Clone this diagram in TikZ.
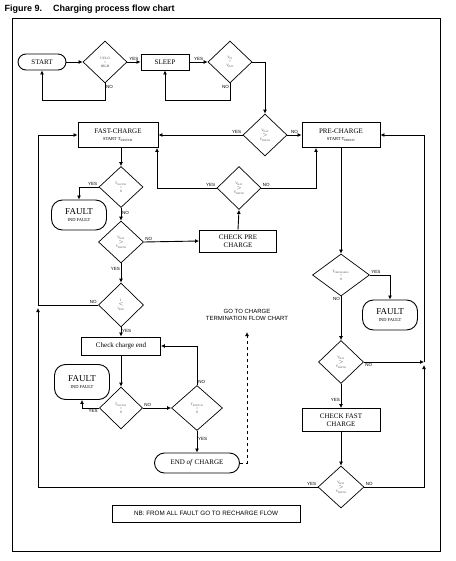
\documentclass[tikz,border=0pt]{standalone}
\usepackage{fontspec}
\setmainfont{Liberation Serif}
\setsansfont{Liberation Sans}
\usepackage{tikz}
\usetikzlibrary{arrows.meta, shapes.geometric, positioning}

\begin{document}
\begin{tikzpicture}[x=1pt, y=-1pt,
  proc/.style={draw, line width=0.9pt, minimum width=78pt, minimum height=24pt, inner sep=1pt, align=center, font=\fontsize{7}{7.6}\selectfont},
  term/.style={proc, rounded corners=8pt},
  fault/.style={proc, rounded corners=11pt, minimum width=55pt, minimum height=30pt},
  dec/.style={draw, diamond, line width=0.7pt, inner sep=0pt, minimum width=44pt, minimum height=42pt, align=center, font=\fontsize{3.4}{4}\selectfont, text=black!75},
  lbl/.style={font=\sffamily\fontsize{4.5}{5}\selectfont, inner sep=1pt},
  sub/.style={font=\fontsize{4.5}{5}\selectfont},
  arr/.style={-{Latex[length=4pt,width=4pt]}, line width=0.9pt}
]
  \useasboundingbox (0,0) rectangle (455,561);
  \node[anchor=west, font=\sffamily\bfseries\fontsize{9}{10}\selectfont] (title) at (1,9) {Figure 9.\hspace{11pt}Charging process flow chart};
  \draw[line width=0.8pt] (12,18) rectangle (440,551);

  % top row
  \node[term, minimum width=48pt, minimum height=16pt] (start) at (42,62) {START};
  \node[dec] (uvlo) at (105,62) {UVLO\\=\\HIGH};
  \node[proc, minimum width=48pt, minimum height=16pt] (sleep) at (165,62) {SLEEP};
  \node[dec] (vin) at (230,62) {V\textsubscript{IN}\\=\\V\textsubscript{BAT}};
  \node[dec] (vbat1) at (265,135) {V\textsubscript{BAT}\\$>$\\V\textsubscript{PRETH}};

  % charge boxes
  \node[proc, minimum width=80pt, minimum height=25pt] (fast) at (118,135) {FAST-CHARGE\\{\fontsize{4.5}{5}\selectfont START T\textsubscript{FASTCH}}};
  \node[proc, minimum width=78pt, minimum height=25pt] (pre) at (341,135) {PRE-CHARGE\\{\fontsize{4.5}{5}\selectfont START T\textsubscript{PRECH}}};

  % left column
  \node[dec, minimum height=41pt] (tfast) at (121,187) {T\textsubscript{FASTCH}\\=\\0};
  \node[fault] (fault1) at (79,215) {{\fontsize{9}{9}\selectfont FAULT}\\{\fontsize{4.5}{5}\selectfont IND FAULT}};
  \node[dec, minimum height=43pt] (vbat2) at (239,188) {V\textsubscript{BAT}\\$>$\\V\textsubscript{PRETH}};
  \node[proc, minimum width=77pt, minimum height=22pt] (checkpre) at (238,241) {CHECK PRE\\CHARGE};
  \node[dec, minimum width=45pt] (vbat3) at (121,242) {V\textsubscript{BAT}\\$>$\\V\textsubscript{PRETH}};
  \node[dec, minimum width=45pt, minimum height=44pt] (idia) at (121,305) {I\\$<$\\I\textsubscript{END}};
  \node[proc, minimum width=79pt, minimum height=18pt] (checkend) at (121,346) {Check charge end};
  \node[dec, minimum width=43pt] (tfast2) at (121,408) {T\textsubscript{FASTCH}\\=\\0};
  \node[fault, minimum height=35pt] (fault3) at (82,382) {{\fontsize{9}{9}\selectfont FAULT}\\{\fontsize{4.5}{5}\selectfont IND FAULT}};
  \node[dec, minimum width=51pt, minimum height=45pt] (tterm) at (197,408) {T\textsubscript{ENDTCH}\\=\\0};
  \node[term, minimum width=85pt, minimum height=20pt, rounded corners=10pt] (endch) at (197,463) {END \textit{of} CHARGE};
  \node[align=center, font=\sffamily\fontsize{6}{7}\selectfont] (goto) at (247,315) {GO TO CHARGE\\TERMINATION FLOW CHART};

  % right column
  \node[dec, minimum width=57pt] (tpre) at (341,275) {T\textsubscript{PRECHARGE}\\=\\0};
  \node[fault] (fault2) at (390,315) {{\fontsize{9}{9}\selectfont FAULT}\\{\fontsize{4.5}{5}\selectfont IND FAULT}};
  \node[dec, minimum width=45pt, minimum height=43pt] (vbatR) at (341,362) {V\textsubscript{BAT}\\$>$\\V\textsubscript{PRETH}};
  \node[proc, minimum width=78pt, minimum height=23pt] (checkfast) at (341,420) {CHECK FAST\\CHARGE};
  \node[dec, minimum width=46pt] (vbat4) at (341,487) {V\textsubscript{BAT}\\$>$\\V\textsubscript{PRETH}};

  \node[draw, line width=0.7pt, minimum width=188pt, minimum height=17pt, font=\sffamily\fontsize{6.3}{7}\selectfont] (nb) at (206,513.5) {NB: FROM ALL FAULT GO TO RECHARGE FLOW};

  \coordinate (jl) at (38,305);
  \coordinate (jr) at (424,362);

  % top row links
  \draw[arr] (start) -- (uvlo);
  \draw[arr] (uvlo) -- node[lbl, above]{YES} (sleep);
  \draw[arr] (uvlo.south) -- ++(0,17) -| (start.south);
  \node[lbl, right] at ([yshift=-4pt]uvlo.south) {NO};
  \draw[arr] (sleep) -- node[lbl, above]{YES} (vin);
  \draw[arr] (vin.south) -- ++(0,17) -| (sleep.south);
  \node[lbl, left] at ([yshift=-4pt]vin.south) {NO};
  \draw[arr] (vin.east) -| (vbat1.north);
  \draw[arr] (vbat1.west) node[lbl, above left]{YES} -- (fast.east);
  \draw[arr] (vbat1.east) -- node[lbl, above]{NO} (pre.west);

  % fast charge branch
  \draw[arr] (fast.south -| tfast.north) -- (tfast.north);
  \draw[arr] (tfast.west) node[lbl, above left]{YES} -| (fault1.north);
  \draw[arr] (tfast.south) -- (vbat3.north);
  \node[lbl, right] at ([yshift=-5pt]tfast.south) {NO};
  \draw[arr] (vbat3.east) node[lbl, above right]{NO} -- (checkpre.west);
  \draw[arr] (checkpre.north) -- (vbat2.south);
  \draw[arr] (vbat2.west) node[lbl, above left]{YES} -| ([xshift=39pt]fast.south);
  \draw[arr] (vbat2.east) node[lbl, above right]{NO} -| ([xshift=-25pt]pre.south);
  \draw[arr] (vbat3.south) -- (idia.north);
  \node[lbl, left] at ([yshift=-6pt]vbat3.south) {YES};
  \draw[arr] (idia.west) node[lbl, above left]{NO} -- (jl) |- (fast.west);
  \draw[arr] (idia.south) -- (checkend.north);
  \node[lbl, right] at ([yshift=-4pt]idia.south) {YES};
  \draw[arr] (checkend.south) -- (tfast2.north);
  \draw[arr] (tfast2.west) node[lbl, below left]{YES} -| (fault3.south);
  \draw[arr] (tfast2.east) node[lbl, above right]{NO} -- (tterm.west);
  \draw[arr] (tterm.north) node[lbl, above right]{NO} |- (checkend.east);
  \draw[arr] (tterm.south) -- (endch.north);
  \node[lbl, right] at ([yshift=-8pt]tterm.south) {YES};
  \draw[arr, dashed, line width=0.6pt] (endch.east) -| ([yshift=-8pt]goto.south);

  % pre charge branch
  \draw[arr] (pre.south -| tpre.north) -- (tpre.north);
  \draw[arr] (tpre.east) node[lbl, above right]{YES} -| (fault2.north);
  \draw[arr] (tpre.south) -- (vbatR.north);
  \node[lbl, left] at ([yshift=-3pt]tpre.south) {NO};
  \draw[arr] (vbatR.east) node[lbl, below right]{NO} -- (jr);
  \draw[arr] (vbatR.south) -- (checkfast.north);
  \node[lbl, left] at ([yshift=-16pt]vbatR.south) {YES};
  \draw[arr] (checkfast.south) -- (vbat4.north);
  \draw[arr] (vbat4.east) node[lbl, above right]{NO} -| ([yshift=-3pt]jr);
  \draw[arr] (jr) |- (pre.east);
  \draw[arr] (vbat4.west) node[lbl, above left]{YES} -| ([yshift=-3pt]jl);
\end{tikzpicture}
\end{document}
